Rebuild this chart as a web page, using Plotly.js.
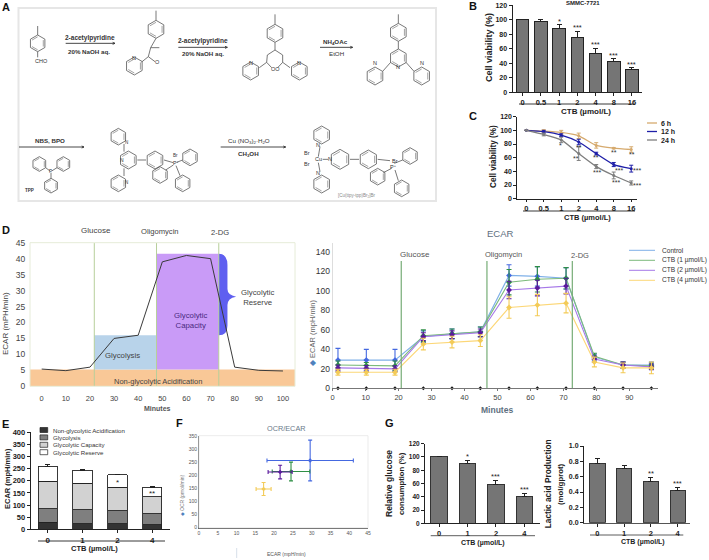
<!DOCTYPE html>
<html><head><meta charset="utf-8">
<script src="https://cdn.plot.ly/plotly-3.0.1.min.js"></script>
<style>html,body{margin:0;padding:0;background:#fff}#g{width:709px;height:560px}</style>
</head><body><div id="g"></div>
<script>
// ---------- data ----------
const doses7 = ['0','0.5','1','2','4','8','16'];
const doses4 = ['0','1','2','4'];
const viabilityB = [100,98,88,76,53,42,31];
const viabilityBErr = [0,3,5,8,8,4,3];
const starsB = ['','','*','***','***','***','***'];
const v6h = [100,99,97,92,78,74,72];
const v6hErr = [0,2,3,4,4,1,4];
const v12h = [100,98,93,83,66,50,44];
const v12hErr = [0,2,2,4,2,3,5];
const v24h = [100,94,86,66,47,34,23];
const v24hErr = [0,2,4,10,3,5,3];
const stressMin = [0,10,20,30,40,50,60,70,80,90,100];
const stressEcar = [5.4,4.9,6,15,16,39,41,40,6,5,4.8];
const ecarMin = [1.6,10.2,18.9,27.5,36.2,44.8,53.5,62.1,70.8,79.4,88.1,96.7];
const ecarControl = [29,29,29,53,56,58,116,115,113,32,24,24];
const ecarControlErr = [12,11,11,6,5,5,11,10,11,3,3,3];
const ecarCtb1 = [24,23.5,23,54,56,58,109,112,113,33,24,23];
const ecarCtb1Err = [4,3,5,6,5,5,13,13,11,3,3,3];
const ecarCtb2 = [21,20.5,20,53,55,57,101,103,105,30,24,22];
const ecarCtb2Err = [3,3,3,4,4,4,9,8,8,3,3,3];
const ecarCtb4 = [16.5,16.5,16.5,45.5,47.5,49,83,85.5,87.5,27,21,21];
const ecarCtb4Err = [3,3,3,6,6,6,11,11,10,5,5,6];
const ecarBase = [0,0,0,0,0,0,0,0,0,0,0,0];
const nonGlyc = [30,23,22,18];
const glycolysis = [54,57,54,46];
const glycCapacity = [115,110,98,71];
const glycReserve = [61,54,50,38];
const glycolysisErr = [6,3,1,2];
const glycCapacityErr = [3,3,7,4];
const glycReserveErr = [7,3,2,2];
const ocrX = [29.6,24.5,21.6,17.2];
const ocrXErr = [11.5,5,3.2,2];
const ocrY = [257,215,213,148];
const ocrYErr = [78,36,26,25];
const glucose = [100,90,58,40];
const glucoseErr = [0,5,7,5];
const starsGlucose = ['','*','***','***'];
const lactate = [0.775,0.71,0.54,0.415];
const lactateErr = [0.06,0.04,0.05,0.05];
const starsLactate = ['','','**','***'];
const ecarLegend = ['Control','CTB (1 µmol/L)','CTB (2 µmol/L)','CTB (4 µmol/L)'];
const ecarLine = ['#7fb0e8','#7cba7c','#a678e8','#fcd777'];
const ecarDark = ['#4468e0','#2f8f45','#5a1a9c','#f3cb58'];
const stackNames = ['Non-glycolytic Acidification','Glycolysis','Glycolytic Capacity','Glycolytic Reserve'];
const stackColors = ['#333333','#7f7f7f','#d2d2d2','#ffffff'];

// ---------- helpers ----------
const W=709,H=560, FONT='"Liberation Sans", Arial, sans-serif';
const px=x=>x/W, py=y=>1-y/H;
const ann=[], shapes=[];
function T(x,y,text,o={}){ann.push(Object.assign({xref:'paper',yref:'paper',x:px(x),y:py(y),text,showarrow:false,
  xanchor:'center',yanchor:'middle',borderpad:0,font:{family:FONT,size:o.size||8,color:o.color||'#222'}},o.extra||{},o.angle?{textangle:o.angle}:{},o.anchor?{xanchor:o.anchor}:{}));}
function B(x,y,text,size,color){T(x,y,'<b>'+text+'</b>',{size:size||8,color:color||'#222'});}
function L(x0,y0,x1,y1,color,w,layer){shapes.push({type:'line',xref:'paper',yref:'paper',x0:px(x0),y0:py(y0),x1:px(x1),y1:py(y1),layer:layer||'above',line:{color:color||'#444',width:w||0.8}});}
function R(x0,y0,x1,y1,fill,lc,w){shapes.push({type:'rect',xref:'paper',yref:'paper',x0:px(x0),y0:py(y0),x1:px(x1),y1:py(y1),fillcolor:fill||'rgba(0,0,0,0)',line:{color:lc||'#000',width:w===undefined?1:w}});}
// panel A is drawn in the coordinates of a 3x enlargement
const z=v=>v/3;
function Lz(a,b,c,d,col,w){L(z(a),z(b),z(c),z(d),col||'#555',w||0.8);}
function hexa(cx,cy,r){
  const p=[];for(let k=0;k<6;k++){const a=Math.PI/2+k*Math.PI/3;p.push([cx+r*Math.cos(a),cy-r*Math.sin(a)]);}
  for(let k=0;k<6;k++){const q=p[(k+1)%6];Lz(p[k][0],p[k][1],q[0],q[1]);
    if(k%2==0){const f=0.78;Lz(cx+(p[k][0]-cx)*f,cy+(p[k][1]-cy)*f,cx+(q[0]-cx)*f,cy+(q[1]-cy)*f,'#666',0.6);}}
}
function Tz(a,b,t,s,c){T(z(a),z(b),t,{size:s||6,color:c||'#333'});}
function arrow(a,b,c){Lz(a,b,c,b,'#333',0.9);Lz(c-7,b-3,c,b,'#333',0.9);Lz(c-7,b+3,c,b,'#333',0.9);}

function ax(x0,x1,range,extra){return Object.assign({domain:[px(x0),px(x1)],range,showgrid:false,zeroline:false,showline:true,linecolor:'#222',linewidth:1,
  ticks:'outside',ticklen:3,tickwidth:1,tickcolor:'#222',tickfont:{family:FONT,size:7.5,color:'#222'},fixedrange:true},extra||{});}
function ay(yb,yt,range,extra){return Object.assign({domain:[py(yb),py(yt)],range,showgrid:false,zeroline:false,showline:true,linecolor:'#222',linewidth:1,
  ticks:'outside',ticklen:3,tickwidth:1,tickcolor:'#222',tickfont:{family:FONT,size:7.5,color:'#222'},fixedrange:true},extra||{});}
const boldTick=s=>({family:FONT,size:s,color:'#1a1a1a',weight:700});
function barErr(arr,col){return {type:'data',symmetric:false,array:arr,arrayminus:arr.map(()=>0),color:col||'#222',thickness:1,width:2.5};}
function symErr(arr,col,w,t){return {type:'data',array:arr,color:col,thickness:t||1,width:w||2};}
function star(xa,ya,i,v,t){if(t)ann.push({xref:xa,yref:ya,x:i,y:v,yanchor:'bottom',xanchor:'center',yshift:-3,text:t,showarrow:false,font:{family:FONT,size:7.5,color:'#222'}});}
const traces=[], layout={width:W,height:H,margin:{l:0,r:0,t:0,b:0},paper_bgcolor:'#fff',plot_bgcolor:'rgba(0,0,0,0)',showlegend:false,barmode:'stack',font:{family:FONT}};

// ---------- A: synthesis scheme ----------
R(18.5,8,436,201,'rgba(0,0,0,0)','#e6e6e6',2);
B(6,7,'A',11,'#111');
hexa(113,130,25); Lz(113,105,113,78); Lz(113,155,113,172); Tz(125,183,'CHO',5.5);
arrow(197,130,345); B(z(270),z(113),'2-acetylpyridine',6.5,'#333'); B(z(266),z(155),'20% NaOH aq.',6.2,'#333');
hexa(468,88,27); Lz(468,60,468,32); Lz(468,115,452,143); Lz(452,143,478,143); Lz(452,143,445,170); Lz(445,170,465,185); Lz(445,170,425,186);
hexa(403,198,27); Tz(402,173,'N',5.5); Tz(471,187,'O',5.5);
arrow(535,142,682); B(z(608),z(122),'2-acetylpyridine',6.5,'#333'); B(z(610),z(160),'20% NaOH aq.',6.2,'#333');
hexa(825,100,27); Lz(825,72,825,43); Lz(825,127,825,150); Lz(825,150,802,165); Lz(825,150,848,165); Lz(802,165,800,187); Lz(848,165,848,187);
Lz(800,187,778,203); Lz(848,187,870,203); Lz(800,187,815,203); Lz(848,187,833,203); hexa(752,213,27); hexa(898,213,27);
Tz(752,188,'N',5.5); Tz(897,188,'N',5.5); Tz(825,208,'OO',5.5);
arrow(960,142,1058); B(z(1005),z(125),'NH<sub>4</sub>OAc',6.2,'#333'); T(z(1010),z(162),'EtOH',{size:6.2,color:'#333'});
hexa(1195,97,27); Lz(1195,70,1195,43); Lz(1195,124,1195,147); hexa(1195,174,27); hexa(1125,228,27); hexa(1265,228,27);
Lz(1172,187,1148,214); Lz(1218,187,1242,214); Tz(1195,200,'N',5.5); Tz(1125,190,'N',5.5); Tz(1265,190,'N',5.5);
arrow(57,441,252); B(z(150),z(420),'NBS, BPO',6.2,'#333');
hexa(118,492,22); hexa(190,492,22); hexa(153,557,22); Lz(137,503,150,513); Lz(171,503,155,513); Lz(153,535,153,518); Tz(152,514,'P',4.5);
B(z(88),z(570),'TPP',4.5,'#333');
hexa(355,410,25); hexa(385,480,27); hexa(355,550,25); hexa(465,480,27); hexa(570,472,25); hexa(480,525,25); hexa(548,550,25);
Lz(372,432,372,455); Lz(372,505,372,528); Lz(412,480,438,480); Lz(492,480,520,488); Lz(530,487,548,480); Lz(520,495,497,510); Lz(528,497,540,527);
Tz(525,490,'P<sup>+</sup>',5); Tz(527,466,'Br',4.5); Tz(365,480,'N',5); Tz(378,427,'N',4.5); Tz(378,548,'N',4.5);
arrow(662,441,857); T(z(748),z(424),'Cu (NO<sub>3</sub>)<sub>2</sub>·H<sub>2</sub>O',{size:6.2,color:'#333'}); B(z(745),z(462),'CH<sub>3</sub>OH',6.2,'#333');
hexa(965,405,27); hexa(1020,478,30); hexa(965,552,27); hexa(1105,478,28); hexa(1230,468,25); hexa(1133,530,25); hexa(1205,565,25);
Lz(1050,478,1077,478); Lz(1133,478,1170,482); Lz(1183,490,1208,480); Lz(1175,505,1150,518); Lz(1185,510,1195,542);
Lz(960,440,955,470); Lz(960,515,955,488); Lz(968,478,985,478);
Tz(955,435,'N',5.5); Tz(955,518,'N',5.5); Tz(990,478,'N',5.5); Tz(955,478,'Cu',5.5); Tz(922,460,'Br',5.5); Tz(922,492,'Br',5.5); Tz(1185,484,'Br',5.5); Tz(1180,501,'P<sup>+</sup>',5.5);
Tz(1070,587,'[Cu(ttpy-tpp)Br<sub>2</sub>]Br',4.5,'#888');

// ---------- B ----------
traces.push({type:'bar',x:doses7,y:viabilityB,width:0.69,xaxis:'x',yaxis:'y',marker:{color:'#757575',line:{color:'#222',width:1}},error_y:barErr(viabilityBErr)});
layout.xaxis=ax(512.5,642,[-0.56,6.55],{type:'category',tickfont:boldTick(7.5),anchor:'y'});
layout.yaxis=ay(92.3,5.3,[0,120],{tickfont:boldTick(7),tickvals:[0,20,40,60,80,100,120],anchor:'x'});
doses7.forEach((d,i)=>star('x','y',i,viabilityB[i]+viabilityBErr[i],starsB[i]));
B(473,6,'B',11,'#111'); B(583,3.5,'SMMC-7721',6); B(586,112,'CTB (µmol/L)',8);
T(489,48,'<b>Cell viability (%)</b>',{size:9,angle:-90}); L(519,104,635,104,'#222',0.9);

// ---------- C ----------
[[v6h,v6hErr,'#d6aa6e','6 h'],[v12h,v12hErr,'#1f1fa8','12 h'],[v24h,v24hErr,'#7d7d7d','24 h']].forEach(s=>{
  traces.push({type:'scatter',mode:'lines+markers',name:s[3],x:doses7,y:s[0],xaxis:'x2',yaxis:'y2',line:{color:s[2],width:1.3,shape:'spline',smoothing:0.5},marker:{color:s[2],size:3},error_y:symErr(s[1],s[2],2)});
});
layout.xaxis2=ax(517.3,637,[-0.51,6.33],{type:'category',tickfont:boldTick(7.5),ticklen:2,anchor:'y2'});
layout.yaxis2=ay(198.7,116.7,[0,120],{tickfont:boldTick(7),tickvals:[0,20,40,60,80,100,120],anchor:'x2'});
B(473,116,'C',11,'#111'); B(587,217.5,'CTB (µmol/L)',7.5);
T(493,157,'<b>Cell viability (%)</b>',{size:8.2,angle:-90}); L(523,211,635,211,'#222',0.9);
[['6 h','#d6aa6e',123],['12 h','#1f1fa8',131.5],['24 h','#7d7d7d',140]].forEach(l=>{L(647,l[2],657,l[2],l[1],1.3);T(660,l[2],'<b>'+l[0]+'</b>',{size:7,anchor:'left'});});
[['*',361,437],['**',416,443],['**',407,475],['**',467,473],['**',521,458],['**',575,462],['***',537,510],['***',590,510],['***',470,516],['***',529,547],['***',592,557]].forEach(s=>T(440+z(s[1]),z(s[2]),s[0],{size:7,color:'#333'}));

// ---------- D left ----------
const D_GLU=21.8,D_OLI=47.6,D_DG=73.4,D_BASE=5.3,D_GLY=16,D_CAP=41.5;
function rd(x0,x1,y0,y1,c){shapes.push({type:'rect',xref:'x3',yref:'y3',x0,x1,y0,y1,fillcolor:c,line:{width:0},layer:'below'});}
rd(-4.85,105,0,D_BASE,'#f9c897'); rd(D_GLU,D_OLI,D_BASE,D_GLY,'#b8d3ea'); rd(D_OLI,D_DG,D_BASE,D_CAP,'#c99bf7');
shapes.push({type:'path',xref:'x3',yref:'y3',layer:'below',fillcolor:'#5f5ff0',line:{width:0},
  path:`M ${D_DG} ${D_CAP} Q 77 ${D_CAP} 77 38 L 77 30.5 Q 77 28.6 80.6 28.1 Q 77 27.6 77 25.5 L 77 19 Q 77 ${D_GLY} ${D_DG} ${D_GLY} Z`});
[D_GLU,D_OLI,D_DG].forEach(v=>shapes.push({type:'line',xref:'x3',yref:'y3',x0:v,x1:v,y0:0,y1:45,line:{color:'#b7cf9b',width:1},layer:'below'}));
traces.push({type:'scatter',mode:'lines',x:stressMin,y:stressEcar,xaxis:'x3',yaxis:'y3',line:{color:'#3a3a3a',width:1}});
layout.xaxis3=ax(30,295,[-4.85,105],{tickvals:stressMin,showline:false,ticklen:5,tickcolor:'rgba(0,0,0,0)',tickfont:{family:FONT,size:7.5,color:'#444'},anchor:'y3'});
layout.yaxis3=ay(386.3,242.7,[0,45],{tickvals:[0,5,10,15,20,25,30,35,40,45],showline:false,ticklen:2,tickcolor:'rgba(0,0,0,0)',tickfont:{family:FONT,size:8.5,color:'#444'},anchor:'x3'});
R(30,242.7,295,386.3,'rgba(0,0,0,0)','#e6ecd8',1);
B(6,230,'D',11,'#111');
T(96,230,'Glucose',{size:8,color:'#444'}); T(160,231,'Oligomycin',{size:7.6,color:'#444'}); T(220,232,'2-DG',{size:7.6,color:'#444'});
T(122,355,'Glycolysis',{size:7.8,color:'#444'}); T(190,320,'Glycolytic<br>Capacity',{size:7.8,color:'#4a2a80'}); T(257,297,'Glycolytic<br>Reserve',{size:7.8,color:'#444'});
T(158,381,'Non-glycolytic Acidification',{size:7.5,color:'#444'}); T(5,324,'ECAR (mPH/min)',{size:8,color:'#444',angle:-90}); T(157,408,'<b>Minutes</b>',{size:7,color:'#555'});

// ---------- D right ----------
[[ecarControl,ecarControlErr],[ecarCtb1,ecarCtb1Err],[ecarCtb2,ecarCtb2Err],[ecarCtb4,ecarCtb4Err]].forEach((s,i)=>{
  traces.push({type:'scatter',mode:'lines+markers',name:ecarLegend[i],x:ecarMin,y:s[0],xaxis:'x4',yaxis:'y4',line:{color:ecarLine[i],width:1.1},
    marker:{color:ecarDark[i],size:4.5,symbol:'diamond'},error_y:symErr(s[1],ecarDark[i],2.5,1.1)});
});
traces.push({type:'scatter',mode:'markers',x:ecarMin,y:ecarBase,xaxis:'x4',yaxis:'y4',marker:{color:'#111',size:3,symbol:'diamond'},cliponaxis:false});
layout.xaxis4=ax(332.7,658,[0,98.7],{tickvals:[0,10,20,30,40,50,60,70,80,90],linecolor:'#777',ticklen:2,tickcolor:'#777',tickfont:{family:FONT,size:7.5,color:'#444'},anchor:'y4'});
layout.yaxis4=ay(388.3,242.7,[0,149.6],{tickvals:[0,20,40,60,80,100,120,140],linecolor:'#ddd',ticklen:0,tickfont:{family:FONT,size:8.5,color:'#333'},anchor:'x4'});
[20.8,46.8,72.7].forEach(v=>shapes.push({type:'line',xref:'x4',yref:'y4',x0:v,x1:v,y0:0,y1:130.8,line:{color:'#76ac76',width:1.2}}));
T(500,233,'ECAR',{size:9.5,color:'#5e6f80'}); T(497,410,'<b>Minutes</b>',{size:8.5,color:'#5e6f80'});
T(312,333,'<span style="color:#4f81bd">◆</span> ECAR (mpH/min)',{size:7.5,color:'#666',angle:-90});
T(415,254.7,'Glucose',{size:8,color:'#555'}); T(503.5,254.3,'Oligomycin',{size:7.5,color:'#555'}); T(579.5,255.5,'2-DG',{size:7.5,color:'#555'});
ecarLegend.forEach((n,i)=>{const y=250.3+10*i;L(629,y,655,y,ecarLine[i],1);T(661,y,n,{size:6.6,color:'#333',anchor:'left'});});

// ---------- E ----------
[[nonGlyc,null],[glycolysis,glycolysisErr],[glycCapacity,glycCapacityErr],[glycReserve,glycReserveErr]].forEach((s,i)=>{
  const t={type:'bar',name:stackNames[i],x:doses4,y:s[0],width:0.555,xaxis:'x5',yaxis:'y5',marker:{color:stackColors[i],line:{color:'#222',width:0.9}}};
  if(s[1])t.error_y=barErr(s[1]);traces.push(t);
});
layout.xaxis5=ax(30.7,170,[-0.49,3.51],{type:'category',tickfont:boldTick(8),anchor:'y5'});
layout.yaxis5=ay(529.3,432.3,[0,400],{tickfont:boldTick(7.5),tickvals:[0,50,100,150,200,250,300,350,400],anchor:'x5'});
B(5,424,'E',11,'#111'); B(94.7,548,'CTB (µmol/L)',7.5); T(7,479,'<b>ECAR (mpH/min)</b>',{size:7.5,angle:-90}); L(38,541,165,541,'#222',0.9);
stackNames.forEach((n,i)=>{const y=430+7.4*i;R(40,y-2.5,47.7,y+2.5,stackColors[i],'#222',0.7);T(51.7,y,n,{size:6.1,color:'#333',anchor:'left'});});
T(117.3,482,'*',{size:8}); T(152.3,493,'**',{size:8});

// ---------- F ----------
ocrX.forEach((v,i)=>{
  traces.push({type:'scatter',mode:'markers',x:[v],y:[ocrY[i]],xaxis:'x6',yaxis:'y6',marker:{color:ecarDark[i],size:3.5,symbol:'diamond'},
    error_x:symErr([ocrXErr[i]],ecarDark[i],2,1.1),error_y:symErr([ocrYErr[i]],ecarDark[i],2,1.1)});
});
const tick6={family:FONT,size:5,color:'#555'};
layout.xaxis6=ax(199,368,[0,45],{tickvals:[0,5,10,15,20,25,30,35,40,45],linecolor:'#666',ticks:'',tickfont:tick6,anchor:'y6'});
layout.yaxis6=ay(527.7,435.7,[0,352],{tickvals:[0,50,100,150,200,250,300,350],linecolor:'#666',ticks:'',tickfont:tick6,anchor:'x6'});
R(199,435.7,368,527.7,'rgba(0,0,0,0)','#e6e6e6',0.8);
B(179,423,'F',11,'#111'); T(286.7,428,'OCR/ECAR',{size:7.3,color:'#6a7a8a'}); T(286.7,553.7,'ECAR (mpH/min)',{size:5,color:'#555'});
T(182.3,495,'<span style="color:#4f81bd">◆</span> OCR (pmol/min)',{size:5,color:'#777',angle:-90}); L(236.7,548,236.7,558,'#ccd6e2',0.8);

// ---------- G ----------
traces.push({type:'bar',x:doses4,y:glucose,width:0.587,xaxis:'x7',yaxis:'y7',marker:{color:'#757575',line:{color:'#333',width:1}},error_y:barErr(glucoseErr)});
layout.xaxis7=ax(425,540,[-0.5,3.55],{type:'category',tickfont:boldTick(7.5),anchor:'y7'});
layout.yaxis7=ay(523.3,443.7,[0,120],{tickfont:boldTick(6.5),tickvals:[0,20,40,60,80,100,120],anchor:'x7'});
traces.push({type:'bar',x:doses4,y:lactate,width:0.57,xaxis:'x8',yaxis:'y8',marker:{color:'#757575',line:{color:'#333',width:1}},error_y:barErr(lactateErr)});
layout.xaxis8=ax(584,690,[-0.5,3.46],{type:'category',tickfont:boldTick(7.5),anchor:'y8',linecolor:'#555'});
layout.yaxis8=ay(522.7,446,[0,1],{tickfont:boldTick(7),tickvals:[0,0.2,0.4,0.6,0.8,1],tickformat:'.1f',anchor:'x8'});
doses4.forEach((d,i)=>{star('x7','y7',i,glucose[i]+glucoseErr[i],starsGlucose[i]);star('x8','y8',i,lactate[i]+lactateErr[i],starsLactate[i]);});
B(389,423,'G',11,'#111');
T(389,484,'<b>Relative glucose</b>',{size:8.5,angle:-90}); T(401,484,'<b>consumption (%)</b>',{size:7.7,angle:-90}); B(483.3,542.7,'CTB (µmol/L)',7); L(430.7,535.7,535,535.7,'#333',0.8);
T(548.3,484,'<b>Lactic acid Production</b>',{size:8.3,angle:-90}); T(560,484,'<b>(mol/gprot)</b>',{size:7.8,angle:-90}); B(643,541.7,'CTB (µmol/L)',7); L(590,535,683.3,535,'#333',0.8);

layout.shapes=shapes; layout.annotations=ann;
Plotly.newPlot('g',traces,layout,{displayModeBar:false,staticPlot:true});
</script></body></html>
